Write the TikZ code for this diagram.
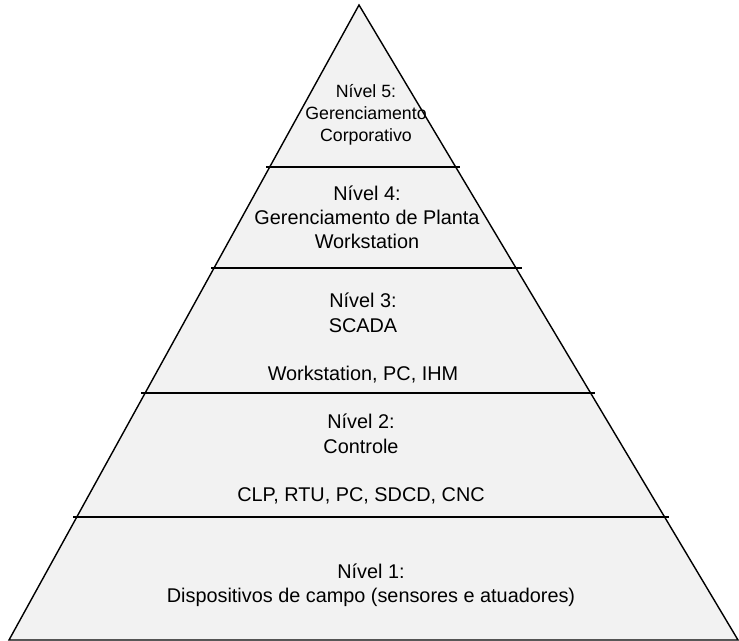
\documentclass[tikz,border=0pt]{standalone}
\usepackage{fontspec}
\setmainfont{Liberation Sans}
\usepackage{tikz}

\tikzset{
  nivel/.style={align=center, inner sep=0pt,
    font=\fontsize{11.3}{13.7}\selectfont},
  nivelcima/.style={nivel, font=\fontsize{10.1}{12.5}\selectfont},
  faixa/.style={line width=0.8pt}
}

\begin{document}
\begin{tikzpicture}[x=0.02cm, y=-0.02cm]

\useasboundingbox (0,0) rectangle (739,641);

% corpo da piramide
\coordinate (topo) at (359,5);
\coordinate (baseesq) at (9,640);
\coordinate (basedir) at (738,640);
\filldraw[fill={rgb,255:red,242;green,242;blue,242}, line width=0.8pt, line join=miter]
   (baseesq) -- (topo) -- (basedir) -- cycle;

% divisoes entre os niveis
\draw[faixa] (266,167) -- (460,167);
\draw[faixa] (211,268) -- (522,268);
\draw[faixa] (141,393) -- (595,393);
\draw[faixa] (73,517) -- (669,517);

% textos
\node[nivelcima] (n5) at (366,115) {Nível 5:\\Gerenciamento\\Corporativo};
\node[nivel] (n4) at (367,217) {Nível 4:\\Gerenciamento de Planta\\Workstation};
\node[nivel] (n3) at (363,338) {Nível 3:\\SCADA\\[13.7pt]Workstation, PC, IHM};
\node[nivel] (n2) at (361,459) {Nível 2:\\Controle\\[13.7pt]CLP, RTU, PC, SDCD, CNC};
\node[nivel] (n1) at (371,585) {Nível 1:\\Dispositivos de campo (sensores e atuadores)};

\end{tikzpicture}
\end{document}
